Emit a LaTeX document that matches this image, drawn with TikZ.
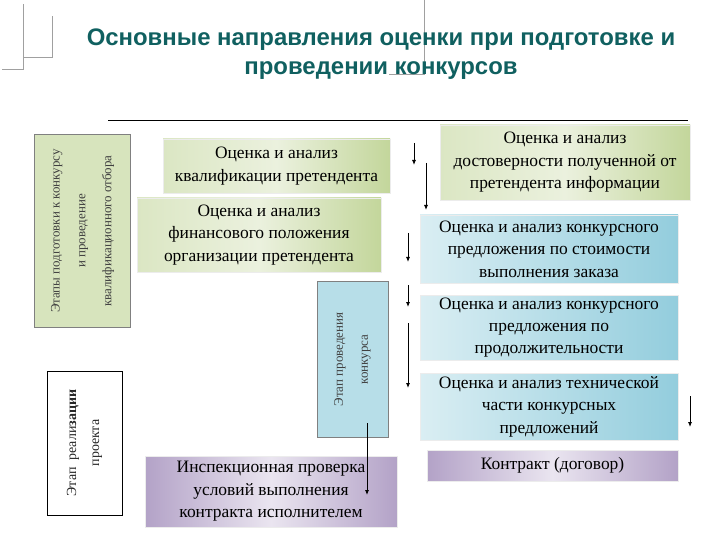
\documentclass[tikz,border=0pt]{standalone}
\usepackage{fontspec}
\setmainfont{Liberation Serif}
\newfontfamily\titlefont{Liberation Sans}
\usetikzlibrary{arrows.meta}
\definecolor{titlec}{RGB}{16,96,96}
\definecolor{grnL}{HTML}{EBF1DE}
\definecolor{grnD}{HTML}{C3D69B}
\definecolor{bluL}{HTML}{DAEEF3}
\definecolor{bluD}{HTML}{93CDDD}
\definecolor{purL}{HTML}{EAE5F0}
\definecolor{purD}{HTML}{B3A2C7}
\definecolor{vgreen}{HTML}{D7E4BD}
\definecolor{vblue}{HTML}{B7DEE8}
\definecolor{deco}{HTML}{A0A0A0}
\tikzset{
  x=1bp,y=-1bp,
  boxtxt/.style={font=\fontsize{17.5}{22.5}\selectfont, align=center, text=black, inner sep=0pt},
  gbox/.style={boxtxt, draw=white!85!gray, line width=0.5bp, shading angle=80, left color=grnL!60!grnD, right color=grnD, middle color=grnL},
  bbox/.style={boxtxt, draw=white!85!gray, line width=0.5bp, shading angle=60, left color=bluL, right color=bluD},
  pbox/.style={boxtxt, draw=white!85!gray, line width=0.5bp, shading angle=70, left color=purD, right color=purD, middle color=purL},
  vtxt/.style={rotate=90, align=center, font=\fontsize{13}{26}\selectfont, text=black!75, inner sep=0pt},
  arr/.style={-{Latex[length=5bp,width=4bp]}, line width=0.8bp, black},
  decoline/.style={deco, line width=0.8bp}
}
\begin{document}
\begin{tikzpicture}
\useasboundingbox (0,0) rectangle (720,540);
% decorative corner lines
\draw[decoline] (23,4) -- (23,69) -- (2,69);
\draw[decoline] (23,57) -- (52,57) -- (52,16);
\draw[decoline] (424,0) -- (424,74) -- (389,74);
% title
\node[font=\titlefont\bfseries\fontsize{24}{29.5}\selectfont, text=titlec, align=center] (title) at (381,54)
  {Основные направления оценки при подготовке и\\проведении конкурсов};
% rule
\coordinate (r1) at (108,121);
\coordinate (r2) at (688,121);
\draw[line width=1bp] (r1) -- (r2);
% vertical stage boxes
\node[draw=gray, line width=1bp, fill=vgreen, minimum width=95bp, minimum height=192bp, inner sep=0pt] (v1) at (82.5,231) {};
\node[vtxt] (v1t) at (v1.center) {Этапы подготовки к конкурсу\\и проведение\\квалификационного отбора};
\node[draw=gray, line width=1bp, fill=vblue, minimum width=71bp, minimum height=155bp, inner sep=0pt] (v2) at (352.5,359.5) {};
\node[vtxt, font=\fontsize{13}{25}\selectfont] (v2t) at (v2.center) {Этап проведения\\конкурса};
\node[draw=black, line width=1bp, fill=white, minimum width=75bp, minimum height=144bp, inner sep=0pt] (v3) at (84.5,443) {};
\node[vtxt, font=\fontsize{14}{23}\selectfont, text=black!85] (v3t) at (v3.center) {Этап\ \ реали\textbf{зации}\\проекта};
% green boxes
\node[gbox, minimum width=227bp, minimum height=54bp] (q1) at (276.5,166) {Оценка и анализ\\квалификации претендента};
\node[gbox, minimum width=244bp, minimum height=74bp] (q2) at (259,235) {Оценка и анализ\\финансового положения\\организации претендента};
\node[gbox, minimum width=250bp, minimum height=75bp] (q3) at (565,162.5) {Оценка и анализ\\достоверности полученной от\\претендента информации};
% blue boxes
\node[bbox, minimum width=258bp, minimum height=68bp] (b1) at (549,249) {Оценка и анализ конкурсного\\предложения по стоимости\\выполнения заказа};
\node[bbox, minimum width=258bp, minimum height=65bp] (b2) at (549,327.5) {Оценка и анализ конкурсного\\предложения по\\продолжительности};
\node[bbox, minimum width=258bp, minimum height=67bp] (b3) at (549,406.5) {Оценка и анализ технической\\части конкурсных\\предложений};
% purple boxes
\node[pbox, minimum width=251bp, minimum height=31bp] (k) at (552.5,465.5) {Контракт (договор)};
\node[pbox, minimum width=252bp, minimum height=71bp] (insp) at (271,491.5) {Инспекционная проверка\\условий выполнения\\контракта исполнителем};
% arrows
\coordinate (a1s) at (414,143); \coordinate (a1e) at (414,165);
\coordinate (a2s) at (426,163); \coordinate (a2e) at (426,210);
\coordinate (a3s) at (408,233); \coordinate (a3e) at (408,262);
\coordinate (a4s) at (408,285); \coordinate (a4e) at (408,307);
\coordinate (a5s) at (408,323); \coordinate (a5e) at (408,388);
\coordinate (a6s) at (690,396); \coordinate (a6e) at (690,427);
\coordinate (a7s) at (367,423); \coordinate (a7e) at (367,495);
\draw[arr] (a1s) -- (a1e);
\draw[arr] (a2s) -- (a2e);
\draw[arr] (a3s) -- (a3e);
\draw[arr] (a4s) -- (a4e);
\draw[arr] (a5s) -- (a5e);
\draw[arr] (a6s) -- (a6e);
\draw[arr] (a7s) -- (a7e);
\end{tikzpicture}
\end{document}
